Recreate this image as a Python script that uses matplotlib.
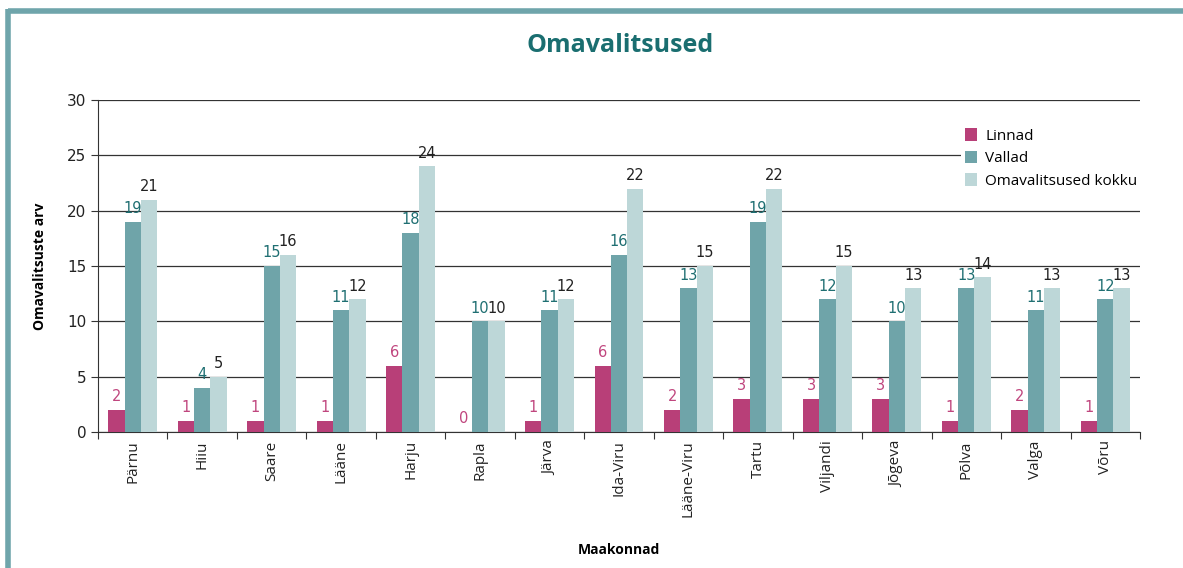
import numpy as np
import matplotlib.pyplot as plt
from matplotlib.lines import Line2D

plt.rcParams['font.family'] = ['Open Sans', 'DejaVu Sans']

maakonnad = ['Pärnu', 'Hiiu', 'Saare', 'Lääne', 'Harju', 'Rapla', 'Järva', 'Ida-Viru',
             'Lääne-Viru', 'Tartu', 'Viljandi', 'Jõgeva', 'Põlva', 'Valga', 'Võru']
linnad = [2, 1, 1, 1, 6, 0, 1, 6, 2, 3, 3, 3, 1, 2, 1]
vallad = [19, 4, 15, 11, 18, 10, 11, 16, 13, 19, 12, 10, 13, 11, 12]
kokku = [21, 5, 16, 12, 24, 10, 12, 22, 15, 22, 15, 13, 14, 13, 13]

c_pink = '#b83f78'
c_teal = '#6fa4a9'
c_light = '#bdd7d8'

fig = plt.figure(figsize=(11.83, 5.68), dpi=100)
ax = fig.add_axes([98/1183, 1 - 432/568, (1140-98)/1183, (432-100)/568])

x = np.arange(len(maakonnad))
w = 0.235
b1 = ax.bar(x - w, linnad, w, color=c_pink, label='Linnad', zorder=3)
b2 = ax.bar(x, vallad, w, color=c_teal, label='Vallad', zorder=3)
b3 = ax.bar(x + w, kokku, w, color=c_light, label='Omavalitsused kokku', zorder=3)

ax.bar_label(b1, padding=4, color='#c0467e', fontsize=10.5, family='DejaVu Sans')
ax.bar_label(b2, padding=4, color='#1f6f72', fontsize=10.5, family='DejaVu Sans')
ax.bar_label(b3, padding=4, color='#222222', fontsize=10.5, family='DejaVu Sans')

ax.set_xlim(-0.5, len(maakonnad) - 0.5)
ax.set_ylim(0, 30)
ax.set_yticks(range(0, 31, 5))
ax.yaxis.grid(True, color='#333333', linewidth=0.9, zorder=0)
ax.set_axisbelow(True)
ax.set_xticks(np.arange(-0.5, len(maakonnad), 1), minor=False)
ax.set_xticklabels([])
ax.set_xticks(x, minor=True)
ax.set_xticklabels(maakonnad, minor=True, rotation=90, fontsize=11, color='#222222')
ax.tick_params(axis='x', which='minor', length=0, pad=6)
ax.tick_params(axis='x', which='major', length=5, direction='out', color='#333333')
ax.tick_params(axis='y', length=5, labelsize=11, color='#333333', labelcolor='#222222')
for t in ax.get_yticklabels():
    t.set_family('DejaVu Sans')

for s in ['top', 'right']:
    ax.spines[s].set_visible(False)
ax.spines['left'].set_color('#333333')
ax.spines['bottom'].set_color('#333333')

ax.set_ylabel('Omavalitsuste arv', fontsize=10, fontweight='bold', labelpad=14)
ax.set_xlabel('Maakonnad', fontsize=10, fontweight='bold', labelpad=12)
ax.xaxis.set_label_coords(0.5, -(543 - 432) / 332)

leg = ax.legend(loc='upper left', bbox_to_anchor=(855/1042, 1 - 16/332), frameon=True,
                fancybox=False, edgecolor='none', facecolor='white', framealpha=1,
                fontsize=11, handlelength=0.8, handleheight=0.9, handletextpad=0.5,
                labelspacing=0.45, borderpad=0.3)
leg.set_zorder(5)

fig.text(620/1183, 1 - 46/568, 'Omavalitsused', ha='center', va='center',
         fontsize=18, fontweight='bold', color='#1a6e70')

# frame lines
fig.add_artist(Line2D([8/1183, 1], [1 - 11/568, 1 - 11/568], color='#6fa5ab', linewidth=4,
                      transform=fig.transFigure, solid_capstyle='butt'))
fig.add_artist(Line2D([8/1183, 8/1183], [0, 1 - 9/568], color='#6fa5ab', linewidth=4,
                      transform=fig.transFigure, solid_capstyle='butt'))

fig.savefig('out.png', dpi=100)
